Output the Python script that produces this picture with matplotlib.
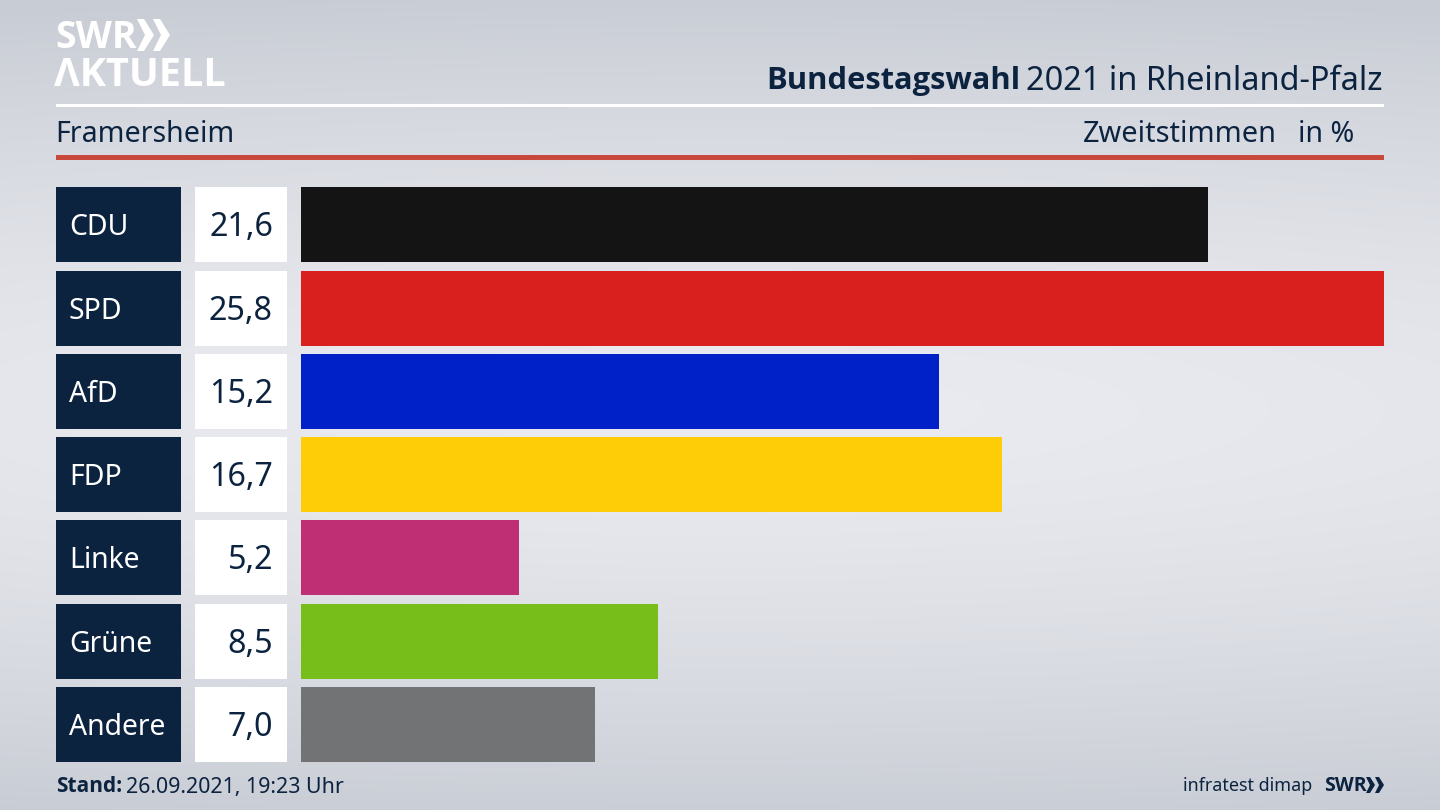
import numpy as np
import matplotlib
matplotlib.use("Agg")
import matplotlib.pyplot as plt
from matplotlib.patches import Polygon, Rectangle

plt.rcParams['font.family'] = ['Noto Sans', 'DejaVu Sans']

parties = ["CDU", "SPD", "AfD", "FDP", "Linke", "Grüne", "Andere"]
shares = [21.6, 25.8, 15.2, 16.7, 5.2, 8.5, 7.0]
share_labels = ["21,6", "25,8", "15,2", "16,7", "5,2", "8,5", "7,0"]
bar_colors = ["#141414", "#da201f", "#0021c8", "#ffcc08", "#bf2f73", "#78be1b", "#727375"]

NAVY = "#0c2340"
ROW_TOP = 187.3
ROW_STEP = 83.25
ROW_H = 75
BOLD = ['Open Sans', 'DejaVu Sans']

fig = plt.figure(figsize=(14.4, 8.1), dpi=100)

# page in pixel coordinates
page = fig.add_axes([0, 0, 1, 1])
page.set_xlim(0, 1440)
page.set_ylim(810, 0)
page.axis("off")

# background gradient, light band through the middle
yy, xx = np.mgrid[0:810, 0:1440]
dist = np.sqrt(((xx - 720) / 2600) ** 2 + ((yy - 410) / 420) ** 2)
shade = np.clip(dist, 0, 1) ** 1.5
top = np.array([234, 235, 240]) / 255
edge = np.array([200, 204, 212]) / 255
bg = top + (edge - top) * shade[..., None]
page.imshow(bg, extent=[0, 1440, 810, 0], aspect="auto", zorder=0)

# logo
page.text(55, 38, "SWR", color="white", fontsize=27, fontweight="bold", family=BOLD, va="center", ha="left")
page.text(54, 75, "ΛKTUELL", color="white", fontsize=28.5, fontweight="bold", family=BOLD, va="center", ha="left")
for x0 in (137, 153):
    page.add_patch(Polygon([(x0, 19), (x0 + 7, 19), (x0 + 17, 35), (x0 + 7, 51), (x0, 51), (x0 + 8, 35)],
                           color="white", lw=0))

# header
page.add_patch(Rectangle((56, 104), 1328, 3, color="white", lw=0))
page.add_patch(Rectangle((56, 155), 1328, 5, color="#c8493c", lw=0))
page.text(1383, 81, "2021 in Rheinland-Pfalz", color=NAVY, fontsize=23.4, ha="right", va="center")
page.text(1020, 81, "Bundestagswahl", color=NAVY, fontsize=22.2, fontweight="bold", family=BOLD, ha="right", va="center")
page.text(55, 135, "Framersheim", color=NAVY, fontsize=20.6, ha="left", va="center")
page.text(1277, 135, "Zweitstimmen", color=NAVY, fontsize=20.8, ha="right", va="center")
page.text(1354, 135, "in %", color=NAVY, fontsize=20.6, ha="right", va="center")

# label boxes
for i, (party, lab) in enumerate(zip(parties, share_labels)):
    y0 = ROW_TOP + i * ROW_STEP
    page.add_patch(Rectangle((56, y0), 125, ROW_H, color=NAVY, lw=0))
    page.add_patch(Rectangle((195, y0), 92, ROW_H, color="white", lw=0))
    page.text(69, y0 + ROW_H / 2 + 3, party, color="white", fontsize=20.4, ha="left", va="center")
    page.text(273, y0 + ROW_H / 2 + 3, lab, color=NAVY, fontsize=23.2, ha="right", va="center")

# bars
ax = fig.add_axes([301.2 / 1440, (810 - 762) / 810, (1384 - 301.2) / 1440, (762 - ROW_TOP) / 810])
ax.patch.set_alpha(0)
ax.barh(range(len(parties)), shares, height=ROW_H / ROW_STEP, color=bar_colors)
ax.set_xlim(0, 25.8)
ax.set_ylim(len(parties) - 0.5 - (1 - ROW_H / ROW_STEP) / 2, -0.5 + (1 - ROW_H / ROW_STEP) / 2)
ax.axis("off")

# footer
page.text(56, 787, "Stand:", color=NAVY, fontsize=15, fontweight="bold", family=BOLD, ha="left", va="center")
page.text(126, 788, "26.09.2021, 19:23 Uhr", color=NAVY, fontsize=15.4, ha="left", va="center")
page.text(1312, 786, "infratest dimap", color=NAVY, fontsize=12.9, ha="right", va="center")
page.text(1324, 786, "SWR", color=NAVY, fontsize=14, fontweight="bold", family=BOLD, ha="left", va="center")
for x0 in (1366, 1375):
    page.add_patch(Polygon([(x0, 777), (x0 + 4, 777), (x0 + 9, 785), (x0 + 4, 793), (x0, 793), (x0 + 4, 785)],
                           color=NAVY, lw=0))

fig.savefig("out.png", dpi=100)
